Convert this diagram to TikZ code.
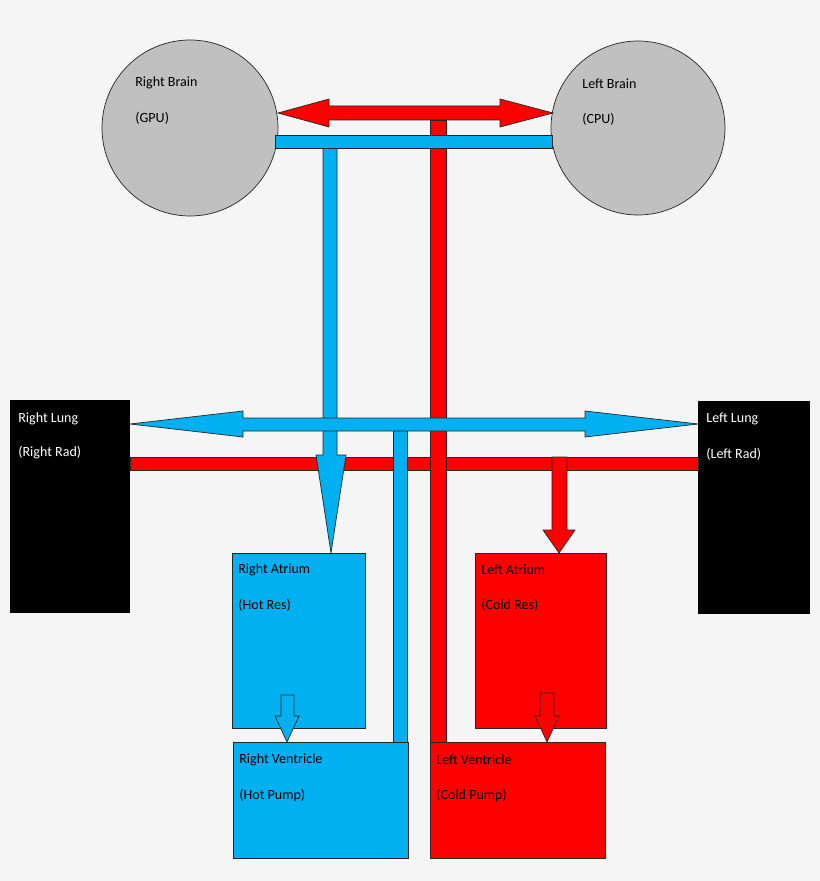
\documentclass[tikz,border=0pt]{standalone}
\usepackage{fontspec}
\setmainfont{Carlito}
\definecolor{hot}{HTML}{00B0F0}
\definecolor{cold}{HTML}{FF0000}
\definecolor{brain}{HTML}{C0C0C0}
\begin{document}
\begin{tikzpicture}[x=0.02cm, y=-0.02cm,
    part/.style = {draw=black!85, thin},
    lbl/.style = {anchor=west, inner sep=0pt, font=\fontsize{8}{9}\selectfont}]
        \fill[black!4] (0,0) rectangle (820,881);

        % brains and lungs
        \node[part, circle, fill=brain, minimum size=176*0.02cm] (rbrain) at (190,128) {};
        \node[part, circle, fill=brain, minimum size=174*0.02cm] (lbrain) at (638,128) {};
        \fill (10,400) rectangle (130,613);
        \fill (698,401) rectangle (810,614);

        % boxes
        \draw[part, fill=hot] (232,553) rectangle (365,728);
        \draw[part, fill=cold] (475,553) rectangle (606,728);
        \draw[part, fill=hot] (233,742) rectangle (408,858);
        \draw[part, fill=cold] (430,742) rectangle (605,858);

        % red pipes
        \draw[part, fill=cold] (130,457) rectangle (698,470);
        \draw[part, fill=cold] (430,120) rectangle (446,742);
        % blue pipes
        \draw[part, fill=hot] (393,428) rectangle (407,742);
        \draw[part, fill=hot] (323,146) -- (337,146) -- (337,455) -- (346,455) -- (331,553)
            -- (316,455) -- (323,455) -- cycle;
        \draw[part, fill=hot] (275,135) rectangle (552,148);
        \draw[part, fill=hot] (130,424) -- (243,411) -- (243,418) -- (585,418) -- (585,411)
            -- (698,424) -- (585,437) -- (585,431) -- (243,431) -- (243,437) -- cycle;
        \draw[part, fill=cold] (278,113) -- (329,99) -- (329,106) -- (500,106) -- (500,99)
            -- (553,113) -- (500,127) -- (500,120) -- (329,120) -- (329,127) -- cycle;
        \draw[part, fill=cold] (552,457) -- (567,457) -- (567,530) -- (575,530) -- (559,553)
            -- (543,530) -- (552,530) -- cycle;
        \draw[part, fill=hot] (281,695) -- (294,695) -- (294,716) -- (299,716) -- (287,742)
            -- (275,716) -- (281,716) -- cycle;
        \draw[part, fill=cold] (540,693) -- (554,693) -- (554,716) -- (559,716) -- (547,742)
            -- (535,716) -- (540,716) -- cycle;

        % labels
        \node[lbl] at (135,83) {Right Brain};
        \node[lbl] at (135,118) {(GPU)};
        \node[lbl] at (582,84) {Left Brain};
        \node[lbl] at (582,119) {(CPU)};
        \node[lbl, white] at (18,419) {Right Lung};
        \node[lbl, white] at (18,453) {(Right Rad)};
        \node[lbl, white] at (706,419) {Left Lung};
        \node[lbl, white] at (706,454) {(Left Rad)};
        \node[lbl] at (238,570) {Right Atrium};
        \node[lbl] at (238,605) {(Hot Res)};
        \node[lbl] at (481,570) {Left Atrium};
        \node[lbl] at (481,605) {(Cold Res)};
        \node[lbl] at (239,760) {Right Ventricle};
        \node[lbl] at (239,795) {(Hot Pump)};
        \node[lbl] at (436,760) {Left Ventricle};
        \node[lbl] at (436,795) {(Cold Pump)};
\end{tikzpicture}
\end{document}
